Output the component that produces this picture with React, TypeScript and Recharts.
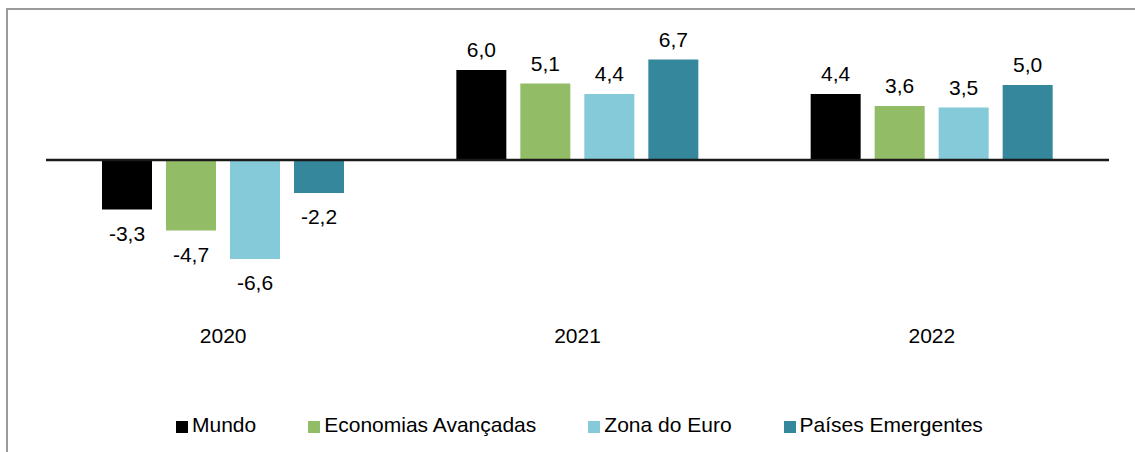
import React from 'react';
import { BarChart, Bar, XAxis, YAxis, ReferenceLine, LabelList, Legend } from 'recharts';

const categories = ['2020', '2021', '2022'];
const mundo = [-3.3, 6.0, 4.4];
const economiasAvancadas = [-4.7, 5.1, 3.6];
const zonaDoEuro = [-6.6, 4.4, 3.5];
const paisesEmergentes = [-2.2, 6.7, 5.0];

const seriesNames = ['Mundo', 'Economias Avançadas', 'Zona do Euro', 'Países Emergentes'];
const seriesKeys = ['mundo', 'eco', 'zona', 'emerg'];
const seriesColors = ['#000000', '#93BC66', '#84CAD8', '#35879B'];

const data = categories.map((c, i) => ({
  year: c,
  mundo: mundo[i],
  eco: economiasAvancadas[i],
  zona: zonaDoEuro[i],
  emerg: paisesEmergentes[i],
}));

const FONT = '"Liberation Sans", Arial, sans-serif';

const fmt = (v: number) => v.toFixed(1).replace('.', ',');

const ValueLabel = (props: any) => {
  const { x, y, width, height, value } = props;
  const top = Math.min(y, y + height);
  const bottom = Math.max(y, y + height);
  const cx = x + width / 2;
  const neg = value < 0;
  const ty = neg ? bottom + 31 : top - 13;
  return (
    <text x={cx} y={ty} textAnchor="middle" fontSize={21} fontFamily={FONT} fill="#000">
      {fmt(value)}
    </text>
  );
};

const LegendContent = () => (
  <div style={{ display: 'flex', alignItems: 'center', fontFamily: FONT, fontSize: 21, lineHeight: '24px', color: '#000' }}>
    {seriesNames.map((n, i) => (
      <div key={n} style={{ display: 'flex', alignItems: 'center', marginRight: i < 3 ? 52 : 0 }}>
        <span style={{ display: 'inline-block', width: 12, height: 12, background: seriesColors[i], marginRight: 4, marginTop: 4 }} />
        <span style={{ whiteSpace: 'nowrap' }}>{n}</span>
      </div>
    ))}
  </div>
);

export default function App() {
  return (
    <div style={{ position: 'fixed', left: 0, top: 0, width: 1135, height: 452, overflow: 'hidden', background: '#fff' }}>
      <div style={{ position: 'absolute', left: 6, top: 8, width: 1200, height: 500, borderLeft: '2px solid #9a9a9a', borderTop: '2px solid #9a9a9a' }} />
      <div style={{ position: 'absolute', left: 0, top: 0 }}>
        <BarChart
          width={1135}
          height={452}
          data={data}
          margin={{ top: 40, right: 26, bottom: 112, left: 46 }}
          barSize={50}
          barGap={14}
        >
          <XAxis
            dataKey="year"
            axisLine={false}
            tickLine={false}
            tickSize={0}
            tickMargin={18}
            height={30}
            tick={{ fontSize: 21, fill: '#000', fontFamily: FONT }}
          />
          <YAxis hide domain={[-10, 8]} />
          <Legend
            layout="horizontal"
            verticalAlign="middle"
            align="center"
            wrapperStyle={{ top: 413, left: 176, width: 900 }}
            content={<LegendContent />}
          />
          {seriesKeys.map((k, i) => (
            <Bar key={k} dataKey={k} name={seriesNames[i]} fill={seriesColors[i]} isAnimationActive={false}>
              <LabelList dataKey={k} content={<ValueLabel />} />
            </Bar>
          ))}
          <ReferenceLine y={0} stroke="#1a1a1a" strokeWidth={2.5} />
        </BarChart>
      </div>
    </div>
  );
}
